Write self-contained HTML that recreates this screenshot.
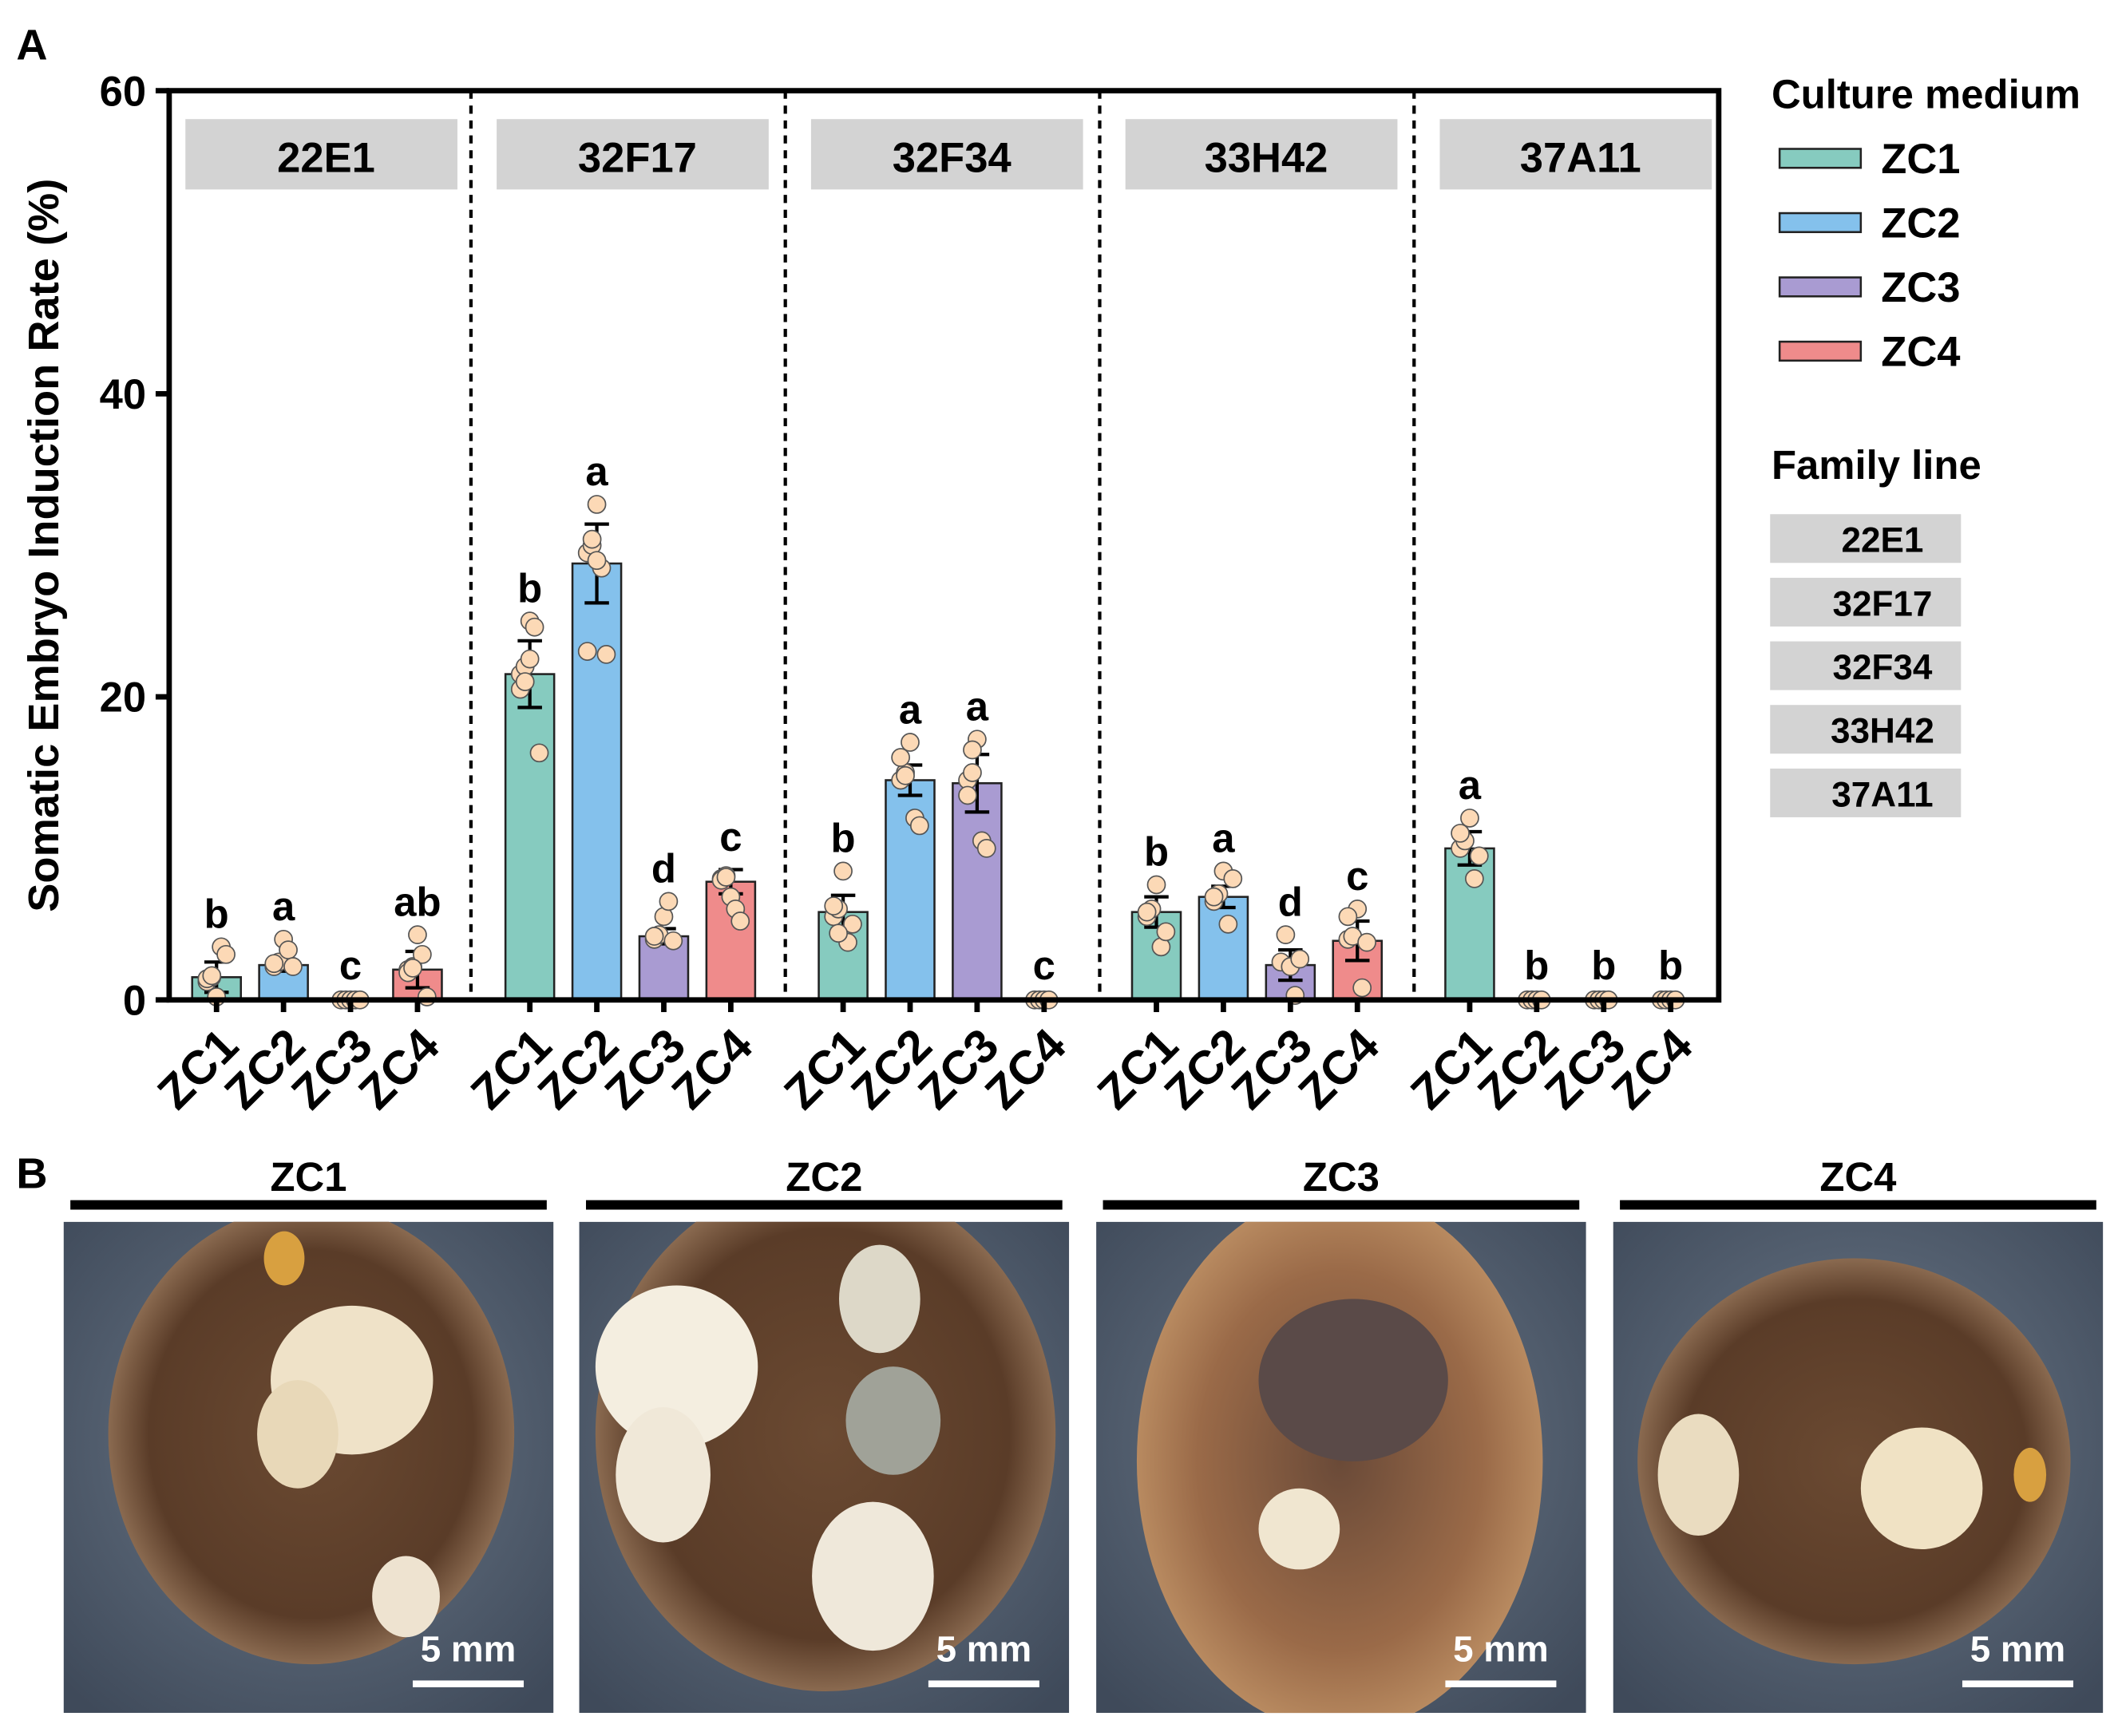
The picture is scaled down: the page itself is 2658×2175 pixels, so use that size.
<!DOCTYPE html>
<html><head><meta charset="utf-8"><style>
body{margin:0;background:#fff}
svg{display:block;font-family:"Liberation Sans",Arial,sans-serif;font-weight:bold}
</style></head><body>
<svg id="fig" width="2658" height="2175" viewBox="0 0 1568 1283" xmlns="http://www.w3.org/2000/svg">
<defs>
<radialGradient id="bg1" cx="50%" cy="45%" r="70%"><stop offset="0" stop-color="#6d7a8a"/><stop offset="1" stop-color="#3f4a5a"/></radialGradient>
<radialGradient id="blob" cx="50%" cy="50%" r="50%"><stop offset="0" stop-color="#6b4a32"/><stop offset="0.8" stop-color="#5a3c28"/><stop offset="1" stop-color="#8a6a50"/></radialGradient>
<radialGradient id="blob3" cx="50%" cy="50%" r="50%"><stop offset="0" stop-color="#6a4a38"/><stop offset="0.7" stop-color="#9a6a48"/><stop offset="1" stop-color="#b88a60"/></radialGradient>
<clipPath id="c0"><rect x="47" y="903" width="362" height="363"/></clipPath>
<clipPath id="c1"><rect x="428" y="903" width="362" height="363"/></clipPath>
<clipPath id="c2"><rect x="810" y="903" width="362" height="363"/></clipPath>
<clipPath id="c3"><rect x="1192" y="903" width="362" height="363"/></clipPath>
</defs>
<text x="12" y="44" font-size="32">A</text>
<text x="12" y="878" font-size="32">B</text>
<g id="chart"></g>
<g id="legend"></g>
<g id="photos"></g>
</svg>
<script>
const families=["22E1","32F17","32F34","33H42","37A11"];
const media=["ZC1","ZC2","ZC3","ZC4"];
const colors=["#86cbbf","#84c1ec","#a99bd2","#ef8b8b"];
const means=[[1.5,2.3,0.1,2.0],[21.5,28.8,4.2,7.8],[5.8,14.5,14.3,0.1],[5.8,6.8,2.3,3.9],[10.0,0.1,0.1,0.1]];
const sds=[[1.0,0.4,0,1.2],[2.2,2.6,0.5,0.8],[1.1,1.0,1.9,0],[1.0,0.7,1.0,1.3],[1.1,0,0,0]];
const letters=[["b","a","c","ab"],["b","a","d","c"],["b","a","a","c"],["b","a","d","c"],["a","b","b","b"]];
const pts=[
[[1.2,1.5,0.2,3.5,3.0,1.4,1.6],[2.2,2.5,4.0,3.3,2.2,2.4],[0,0,0,0,0],[2.0,2.2,4.3,3.0,0.2,1.8,2.1]],
[[21.5,22.0,25.0,24.6,16.3,20.5,21.0,22.5],[29.5,30.0,32.7,28.5,22.8,23.0,30.4,29.0],[4.0,4.3,5.5,6.5,3.9,4.2],[8.0,8.2,6.8,6.0,5.2,7.9,8.1]],
[[5.5,6.0,8.5,3.8,5.0,6.2,4.4],[14.5,15.0,17.0,12.0,11.5,16.0,14.8],[14.5,15.0,17.2,10.5,10.0,13.5,16.5],[0,0,0,0]],
[[5.5,6.0,7.6,3.5,4.5,5.8],[6.5,7.0,8.5,5.0,8.0,6.8],[2.5,4.3,2.2,0.3,2.7],[4.0,4.2,6.0,0.8,3.8,5.5]],
[[10.0,10.5,12.0,8.0,9.5,11.0],[0,0,0,0],[0,0,0,0],[0,0,0,0]]];
const yTicks=[0,20,40,60];
const NS="http://www.w3.org/2000/svg";
const X0=125,X1=1270,Y0=739,Y1=67,YMAX=60;
const yS=v=>Y0-(v/YMAX)*(Y0-Y1);
const xS=(g,m)=>160+g*231.5+m*49.5;
const chart=document.getElementById('chart');
function mk(tag,attrs,parent){const e=document.createElementNS(NS,tag);for(const k in attrs)e.setAttribute(k,attrs[k]);(parent||chart).appendChild(e);return e;}
families.forEach((f,g)=>{
  const left=g===0?X0:348+(g-1)*232.3;
  if(g>0){const d=mk('line',{x1:left,y1:Y1,x2:left,y2:Y0,stroke:'#000','stroke-width':2.5,'stroke-dasharray':'6,5'});
    
    }
  const sx=g===0?137:left+19;
  const r=mk('rect',{x:sx,y:88,width:201,height:52,fill:'#d3d3d3'});
  
  
  const t=mk('text',{x:sx+104,y:127,'font-size':31,'text-anchor':'middle'});t.textContent=f;
  
  
});
families.forEach((f,g)=>media.forEach((m,i)=>{
  const cx=xS(g,i),v=means[g][i],sd=sds[g][i];
  const b=mk('rect',{x:cx-18,y:yS(v),width:36,height:Y0-yS(v),fill:colors[i],stroke:'#222','stroke-width':1.5});
  
  
  if(sd>0){const e=mk('path',{d:`M${cx},${yS(v-sd)}V${yS(v+sd)}M${cx-9},${yS(v-sd)}H${cx+9}M${cx-9},${yS(v+sd)}H${cx+9}`,stroke:'#000','stroke-width':2.5,fill:'none'});
    
    }
  pts[g][i].forEach((p,k)=>{
    const c=mk('circle',{cx:cx+((k%5)-2)*3.5,cy:yS(p),r:6.5,fill:'#fcd9b6',stroke:'#555','stroke-width':1});
    
    
  });
  const top=Math.max(v+sd,...pts[g][i]);
  const l=mk('text',{x:cx,y:yS(top)-14,'font-size':30,'text-anchor':'middle'});l.textContent=letters[g][i];
  
  
  const tk=mk('line',{x1:cx,y1:Y0,x2:cx,y2:Y0+9,stroke:'#000','stroke-width':4});
  
  
  const xl=mk('text',{x:cx+18,y:Y0+36,'font-size':35,'text-anchor':'end',transform:`rotate(-45 ${cx+18} ${Y0+36})`});xl.textContent=m;
  
  
}));
const fr=mk('rect',{x:X0,y:Y1,width:X1-X0,height:Y0-Y1,fill:'none',stroke:'#000','stroke-width':4});


yTicks.forEach(v=>{
  const t=mk('line',{x1:X0-10,y1:yS(v),x2:X0,y2:yS(v),stroke:'#000','stroke-width':4});
  
  
  const l=mk('text',{x:X0-17,y:yS(v)+11,'font-size':31,'text-anchor':'end'});l.textContent=v;
  
  
});
const yt=mk('text',{x:43,y:(Y0+Y1)/2,'font-size':32,'text-anchor':'middle',transform:`rotate(-90 43 ${(Y0+Y1)/2})`});
yt.textContent='Somatic Embryo Induction Rate (%)';


const lg=document.getElementById('legend');
const lt=mk('text',{x:1309,y:80,'font-size':30},lg);lt.textContent='Culture medium';


media.forEach((m,i)=>{
  const y=117+i*47.5;
  const s=mk('rect',{x:1315,y:y-7,width:60,height:14,fill:colors[i],stroke:'#222','stroke-width':1.5},lg);
  
  
  const t=mk('text',{x:1390,y:y+11,'font-size':31},lg);t.textContent=m;
  
  
});
const ft=mk('text',{x:1309,y:354,'font-size':30},lg);ft.textContent='Family line';


families.forEach((f,i)=>{
  const y=380+i*47;
  const r=mk('rect',{x:1308,y:y,width:141,height:36,fill:'#d3d3d3'},lg);
  
  
  const t=mk('text',{x:1391,y:y+28,'font-size':26,'text-anchor':'middle'},lg);t.textContent=f;
  
  
});
const ph=document.getElementById('photos');
const px=[47,428,810,1192];
const blobs=[
 [[230,1060,150,170,'url(#blob)'],[260,1020,60,55,'#efe2c8'],[220,1060,30,40,'#e8d8b8'],[300,1180,25,30,'#eee3d0'],[210,930,15,20,'#d8a040']],
 [[610,1060,170,190,'url(#blob)'],[500,1010,60,60,'#f4eee0'],[490,1090,35,50,'#f0e8d8'],[645,1165,45,55,'#efe8da'],[650,960,30,40,'#ddd8c8'],[660,1050,35,40,'#a0a298']],
 [[990,1080,150,200,'url(#blob3)'],[960,1130,30,30,'#f0e6d0'],[1000,1020,70,60,'#5a4a48']],
 [[1370,1080,160,150,'url(#blob)'],[1420,1100,45,45,'#f0e2c4'],[1255,1090,30,45,'#eadcc0'],[1500,1090,12,20,'#d8a040']]];
px.forEach((x,i)=>{
  const b=mk('rect',{x:x+5,y:887,width:352,height:7,fill:'#000'},ph);
  
  
  const t=mk('text',{x:x+181,y:880,'font-size':30,'text-anchor':'middle'},ph);t.textContent=media[i];
  
  
  const g=mk('g',{'clip-path':`url(#c${i})`},ph);
  
  
  mk('rect',{x:x,y:903,width:362,height:363,fill:'url(#bg1)'},g);
  blobs[i].forEach(e=>{const el=mk('ellipse',{cx:e[0],cy:e[1],rx:e[2],ry:e[3],fill:e[4]},g);
    
    });
  const sb=mk('rect',{x:x+258,y:1242,width:82,height:5,fill:'#fff'},ph);
  
  
  const st=mk('text',{x:x+299,y:1228,'font-size':27,'text-anchor':'middle',fill:'#fff'},ph);st.textContent='5 mm';
  
  
});
</script>
</body></html>
